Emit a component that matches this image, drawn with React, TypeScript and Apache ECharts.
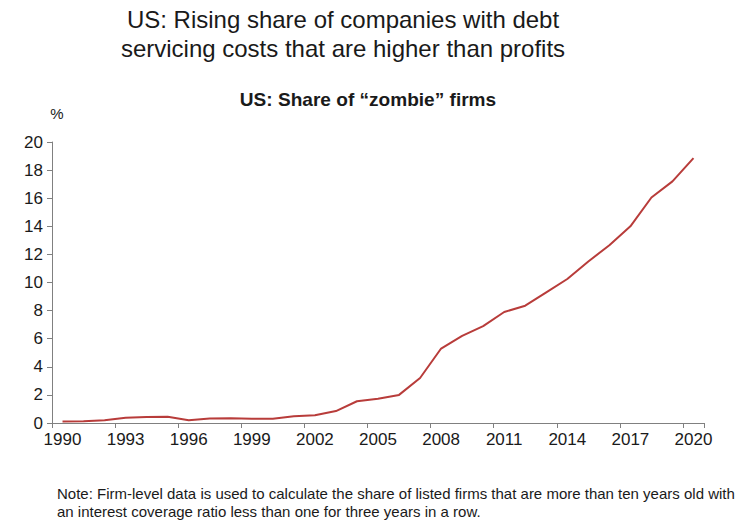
import React, { useEffect, useRef } from "react";
import * as echarts from "echarts";

const years: string[] = [
  "1990","1991","1992","1993","1994","1995","1996","1997","1998","1999",
  "2000","2001","2002","2003","2004","2005","2006","2007","2008","2009",
  "2010","2011","2012","2013","2014","2015","2016","2017","2018","2019","2020",
];
const zombieShare: number[] = [
  0.1, 0.12, 0.2, 0.38, 0.42, 0.45, 0.2, 0.32, 0.33, 0.3,
  0.3, 0.48, 0.55, 0.85, 1.55, 1.72, 2.0, 3.2, 5.3, 6.2,
  6.9, 7.9, 8.35, 9.3, 10.25, 11.5, 12.65, 14.0, 16.05, 17.2, 18.85,
];
const titleLines: string[] = [
  "US: Rising share of companies with debt",
  "servicing costs that are higher than profits",
];
const subtitle = "US: Share of \u201czombie\u201d firms";
const unitLabel = "%";
const noteLines: string[] = [
  "Note: Firm-level data is used to calculate the share of listed firms that are more than ten years old with",
  "an interest coverage ratio less than one for three years in a row.",
];

const FONT = "Liberation Sans, Arial, sans-serif";

export default function App() {
  const ref = useRef<HTMLDivElement>(null);
  useEffect(() => {
    if (!ref.current) return;
    const chart = echarts.init(ref.current, undefined, { renderer: "svg" });
    chart.setOption({
      animation: false,
      backgroundColor: "#ffffff",
      textStyle: { fontFamily: FONT },
      grid: { left: 52, right: 40, top: 142, bottom: 102, containLabel: false },
      graphic: [
        {
          type: "text",
          x: 343,
          y: 5,
          style: {
            text: titleLines.join("\n"),
            font: `24px ${FONT}`,
            fill: "#1a1a1a",
            align: "center",
            verticalAlign: "top",
            lineHeight: 29,
          },
          z: 10,
        },
        {
          type: "text",
          x: 368,
          y: 100,
          scaleX: 1.06,
          style: {
            text: subtitle,
            font: `bold 18px ${FONT}`,
            fill: "#1a1a1a",
            align: "center",
            verticalAlign: "middle",
          },
        },
        {
          type: "text",
          x: 57,
          y: 113,
          style: {
            text: unitLabel,
            font: `15px ${FONT}`,
            fill: "#1a1a1a",
            align: "center",
            verticalAlign: "middle",
          },
        },
        {
          type: "text",
          x: 57,
          y: 484,
          style: {
            text: noteLines.join("\n"),
            font: `15px ${FONT}`,
            fill: "#1a1a1a",
            verticalAlign: "top",
            lineHeight: 18,
          },
        },
      ],
      xAxis: {
        type: "category",
        data: years,
        boundaryGap: true,
        axisLine: { lineStyle: { color: "#808080", width: 1 } },
        axisTick: { show: true, interval: 2, length: 5, lineStyle: { color: "#808080" } },
        axisLabel: { interval: 2, color: "#1a1a1a", fontSize: 17, margin: 8, fontFamily: FONT },
        splitLine: { show: false },
      },
      yAxis: {
        type: "value",
        min: 0,
        max: 20,
        interval: 2,
        axisLine: { show: true, lineStyle: { color: "#808080", width: 1 } },
        axisTick: { show: true, length: 5, lineStyle: { color: "#808080" } },
        axisLabel: { color: "#1a1a1a", fontSize: 17, margin: 9, fontFamily: FONT },
        splitLine: { show: false },
      },
      series: [
        {
          type: "line",
          data: zombieShare,
          symbol: "none",
          lineStyle: { color: "#b83c3a", width: 2 },
        },
      ],
    });
    return () => chart.dispose();
  }, []);
  return <div ref={ref} style={{ width: 744, height: 525, position: "absolute", left: 0, top: 0 }} />;
}
